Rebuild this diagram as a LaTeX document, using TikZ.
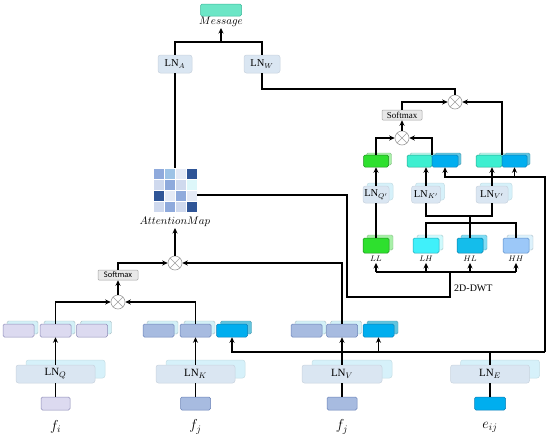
\documentclass[tikz,border=0pt]{standalone}
\usepackage{fontspec}
\setmainfont{Liberation Serif}
\newfontfamily\calibfont{Carlito}
\usetikzlibrary{arrows.meta,shadows}

\definecolor{lnfill}{HTML}{DAE6F2}
\definecolor{lnshadow}{HTML}{D6F1FA}
\definecolor{lav}{HTML}{DCDAF0}
\definecolor{lavd}{HTML}{8E8CB8}
\definecolor{qsh}{HTML}{D3F0F7}
\definecolor{steel}{HTML}{A7BBE0}
\definecolor{steeld}{HTML}{6A82B8}
\definecolor{sky}{HTML}{00AEEF}
\definecolor{skyd}{HTML}{0A7FB8}
\definecolor{skysh}{HTML}{62C4DE}
\definecolor{aqua}{HTML}{3EEFD0}
\definecolor{aquad}{HTML}{22A890}
\definecolor{aquash}{HTML}{B6F6EA}
\definecolor{msgc}{HTML}{6CE6C6}
\definecolor{msgd}{HTML}{3CB89A}
\definecolor{lime}{HTML}{2EE02E}
\definecolor{limed}{HTML}{1C8F1C}
\definecolor{limesh}{HTML}{A8F0A8}
\definecolor{lhc}{HTML}{40F0FA}
\definecolor{lhd}{HTML}{20A8B8}
\definecolor{lhsh}{HTML}{CFFAFD}
\definecolor{hlc}{HTML}{14BDEB}
\definecolor{hld}{HTML}{0A80A8}
\definecolor{hlsh}{HTML}{80DDF5}
\definecolor{hhc}{HTML}{9CC8F8}
\definecolor{hhd}{HTML}{5A8CC8}
\definecolor{hhsh}{HTML}{DDF2FC}
\definecolor{amA}{HTML}{8FAADC}
\definecolor{amB}{HTML}{9DC3E6}
\definecolor{amC}{HTML}{E4EAF6}
\definecolor{amD}{HTML}{2F5597}
\definecolor{amE}{HTML}{CFD9EE}
\definecolor{amF}{HTML}{DDF7FA}

\begin{document}
\begin{tikzpicture}[x=1pt,y=-1pt,
  conn/.style={line width=1.8pt},
  arr/.style={conn,-{Stealth[length=5.5pt,width=5pt]}},
  rbox/.style={rectangle, rounded corners=1.5pt, inner sep=0pt, line width=0.5pt},
  fb/.style n args={5}{rbox, fill=#1, draw=#2,
     general shadow={fill=#3, draw=#3!80!black, line width=0.4pt, shadow xshift=#4, shadow yshift=#5}},
  lnb/.style={rbox, rounded corners=2.5pt, fill=lnfill, draw=lnfill!92!black, minimum height=18pt,
     font=\fontsize{10.5}{12}\selectfont},
  lnbs/.style={lnb, general shadow={fill=lnshadow, draw=lnshadow!92!black, shadow xshift=4pt, shadow yshift=3pt}},
  lnbb/.style={lnb, minimum width=79pt, font=\fontsize{11}{13}\selectfont,
     general shadow={fill=lnshadow, draw=lnshadow!92!black, shadow xshift=10pt, shadow yshift=5pt}},
  otimes/.style={circle, draw=gray!75, fill=white, line width=0.6pt, minimum size=14pt, inner sep=0pt,
     path picture={\draw[gray!75, line width=0.6pt]
       ([shift={(45:7pt)}]path picture bounding box.center) -- ([shift={(225:7pt)}]path picture bounding box.center)
       ([shift={(135:7pt)}]path picture bounding box.center) -- ([shift={(-45:7pt)}]path picture bounding box.center);}},
  smx/.style={rbox, rounded corners=1pt, fill=gray!18, draw=gray!70, minimum width=40pt, minimum height=10pt},
  lvlab/.style={font=\fontsize{8.5}{9}\selectfont, inner sep=1pt},
  inlab/.style={font=\fontsize{14}{16}\selectfont},
  qb/.style={fb={lav}{lavd}{qsh}{4pt}{3pt}, minimum width=31pt, minimum height=13pt},
  kb/.style={fb={steel}{steeld}{qsh}{4pt}{3pt}, minimum width=31pt, minimum height=13pt},
  bb/.style={fb={sky}{skyd}{skysh}{4pt}{3pt}, minimum width=31pt, minimum height=13pt},
]
\fill[white] (0,0) rectangle (550,442);
\useasboundingbox (0,0) rectangle (550,442);

% ---------- top ----------
\node[rbox, fill=msgc, draw=msgd, minimum width=41pt, minimum height=12pt] (msg) at (221,10) {};
\node[font=\fontsize{10.5}{12}\selectfont, inner sep=1pt] (msglab) at (221,22) {$Message$};
\coordinate (jm) at (221,42);
\node[lnb, minimum width=34pt] (lnA) at (175,64) {LN$_A$};
\node[lnb, minimum width=36pt] (lnW) at (262,64) {LN$_W$};

% ---------- attention map ----------
\node[minimum width=44pt, minimum height=44pt, inner sep=0pt] (amap) at (175,190) {};
\foreach \r/\cols in {0/{amA,amB,amC,amD},1/{amE,amA,amE,amF},2/{amD,amC,amA,amC},3/{amE,amA,amE,amD}}{
  \foreach \cc [count=\ci from 0] in \cols {
    \fill[\cc, draw=white, line width=0.4pt] (153+11*\ci,168+11*\r) rectangle ++(11,11);
  }
}
\node[font=\fontsize{10.5}{12}\selectfont, inner sep=1pt] (amlab) at (175,222) {$AttentionMap$};

% ---------- upper right ----------
\node[otimes] (ot1) at (455,102) {};
\node[smx, font=\fontsize{9}{10}\selectfont] (sm2) at (402,115) {Softmax};
\node[otimes] (ot2) at (402,138) {};

\node[fb={lime}{limed}{limesh}{3pt}{2pt}, minimum width=25pt, minimum height=12pt] (gq) at (376,161) {};
\node[fb={aqua}{aquad}{aquash}{3pt}{2pt}, minimum width=25pt, minimum height=12pt] (kc) at (419.5,161) {};
\node[fb={sky}{skyd}{skysh}{3pt}{2pt}, minimum width=26pt, minimum height=12pt] (kbx) at (445,161) {};
\node[fb={aqua}{aquad}{aquash}{3pt}{2pt}, minimum width=26pt, minimum height=12pt] (vc) at (489,161) {};
\node[fb={sky}{skyd}{skysh}{3pt}{2pt}, minimum width=25pt, minimum height=12pt] (vbx) at (514.5,161) {};

\node[lnbs, minimum width=26pt, minimum height=17pt] (lnq2) at (376,194.5) {LN$_{Q'}$};
\node[lnbs, minimum width=29pt, minimum height=17pt] (lnk2) at (426,194.5) {LN$_{K'}$};
\node[lnbs, minimum width=32pt, minimum height=17pt] (lnv2) at (492,194.5) {LN$_{V'}$};

\node[fb={lime}{limed}{limesh}{4pt}{3pt}, minimum width=26pt, minimum height=15pt] (ll) at (376,245.5) {};
\node[fb={lhc}{lhd}{lhsh}{4pt}{3pt}, minimum width=26pt, minimum height=15pt] (lh) at (426,245.5) {};
\node[fb={hlc}{hld}{hlsh}{4pt}{3pt}, minimum width=26pt, minimum height=15pt] (hl) at (470,245.5) {};
\node[fb={hhc}{hhd}{hhsh}{4pt}{3pt}, minimum width=26pt, minimum height=15pt] (hh) at (516,245.5) {};
\node[lvlab] (lll) at (376,259) {$LL$};
\node[lvlab] (lhl) at (426,259) {$LH$};
\node[lvlab] (hll) at (470,259) {$HL$};
\node[lvlab] (hhl) at (516,259) {$HH$};
\node[anchor=west, font=\fontsize{10}{12}\selectfont, inner sep=0pt] (dwt) at (454,288) {2D-DWT};

\coordinate (jk) at (470,216);
\coordinate (jd) at (470,223);
\coordinate (dw) at (450,272);
\coordinate (dwc) at (347,297);
\coordinate (busT) at (545,177);
\coordinate (busR) at (545,352);

% ---------- lower left ----------
\node[otimes] (ot3) at (175,263) {};
\node[smx, font=\calibfont\fontsize{8.5}{9}\selectfont] (sm1) at (118,275) {Softmax};
\node[otimes] (ot4) at (118,302) {};

\node[qb] (q1) at (18.5,330.5) {};
\node[qb] (q2) at (55.5,330.5) {};
\node[qb] (q3) at (92,330.5) {};
\node[kb] (k1) at (158.5,330.5) {};
\node[kb] (k2) at (195.5,330.5) {};
\node[bb] (k3) at (232,330.5) {};
\node[kb] (v1) at (306.5,330.5) {};
\node[kb] (v2) at (342,330.5) {};
\node[bb] (v3) at (378.5,330.5) {};

\node[lnbb] (lnq) at (55.5,374) {LN$_Q$};
\node[lnbb] (lnk) at (195.5,374) {LN$_K$};
\node[lnbb, minimum width=80pt] (lnv) at (342,374) {LN$_V$};
\node[lnbb] (lne) at (490,374) {LN$_E$};

\node[rbox, fill=lav, draw=lavd, minimum width=29pt, minimum height=13pt] (fi) at (55.5,403.5) {};
\node[rbox, fill=steel, draw=steeld, minimum width=30pt, minimum height=13pt] (fj1) at (195.5,403.5) {};
\node[rbox, fill=steel, draw=steeld, minimum width=30pt, minimum height=13pt] (fj2) at (342,403.5) {};
\node[rbox, fill=sky, draw=skyd, minimum width=31pt, minimum height=13pt] (eij) at (490,403.5) {};
\node[inlab] (fil) at (55.5,427) {$f_i$};
\node[inlab] (fj1l) at (195.5,427) {$f_j$};
\node[inlab] (fj2l) at (342,427) {$f_j$};
\node[inlab] (eijl) at (490,427) {$e_{ij}$};

% ---------- connectors: top ----------
\draw[conn] (lnA.north) |- (jm) -| (lnW.north);
\draw[arr] (jm) -- (msglab.south);
\draw[conn] (lnA.south) -- (amap.north);
\draw[conn] (lnW.south) -- ++(0,16) -| (ot1.north);

% ---------- connectors: upper right ----------
\draw[arr] (sm2.north) |- (ot1.west);
\draw[arr] (vc.north east) |- (ot1.east);
\draw[arr] (ot2.north) -- (sm2.south);
\draw[arr] (gq.north) |- (ot2.west);
\draw[arr] (kc.north east) |- (ot2.east);
\draw[arr] (lnq2.north) -- (gq.south);
\draw[arr] (lnk2.north) -- (lnk2.north |- kc.south);
\draw[arr] (lnv2.north) -- (lnv2.north |- vc.south);
\draw[arr] (busR) -- (busT) -| (kbx.south);
\draw[arr] (vbx.south |- busT) -- (vbx.south);

\draw[conn] (lnq2.south) -- (ll.north);
\draw[conn] (lnk2.south) |- (jk) -| (lnv2.south);
\draw[conn] (jk) -- (jd);
\draw[conn] (lh.north) |- (jd) -| (hh.north);
\draw[conn] (jd) -- (hl.north);

\draw[conn] (lll.south |- dw) -- (hhl.south |- dw);
\foreach \n in {lll,lhl,hll,hhl} \draw[arr] (\n.south |- dw) -- (\n.south);
\draw[conn] ([yshift=-5pt]amap.east) -| (dwc) -| (dw);

% ---------- connectors: lower left ----------
\draw[arr] (q2.north) |- (ot4.west);
\draw[arr] (k2.north) |- (ot4.east);
\draw[arr] (ot4.north) -- (sm1.south);
\draw[arr] (sm1.north) |- (ot3.west);
\draw[arr] (v2.north) |- (ot3.east);
\draw[arr] (ot3.north) -- (amlab.south);

\draw[arr] (lnq.north) -- (q2.south);
\draw[arr] (lnk.north) -- (k2.south);
\draw[arr] (lnv.north) -- (v2.south);
\draw[arr] (busR) -| (k3.south);
\draw[arr] (v3.south |- busR) -- (v3.south);
\draw[conn] (lne.north) -- (lne.north |- busR);

\draw[conn] (fi.north) -- (lnq.south);
\draw[conn] (fj1.north) -- (lnk.south);
\draw[conn] (fj2.north) -- (lnv.south);
\draw[conn] (eij.north) -- (lne.south);
\end{tikzpicture}
\end{document}
